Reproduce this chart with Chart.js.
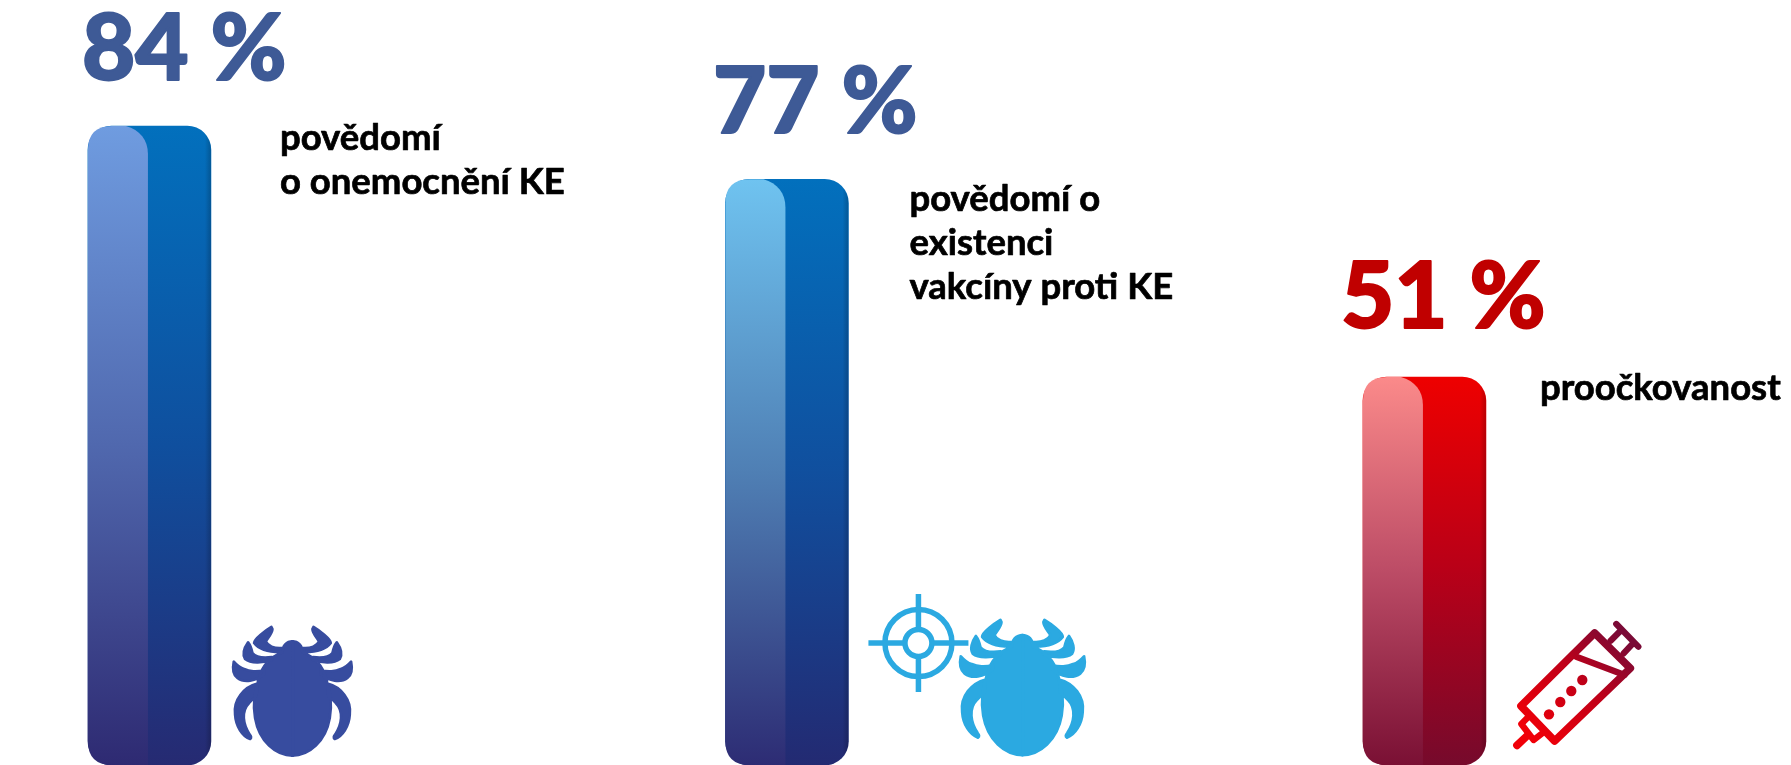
<!DOCTYPE html>
<html lang="cs"><head><meta charset="utf-8">
<script src="https://cdn.jsdelivr.net/npm/chart.js@4"></script>
<style>html,body{margin:0;padding:0;background:#fff;overflow:hidden}canvas{display:block}</style>
</head><body><canvas id="c" width="1791" height="765"></canvas>
<script>
// ---- data ----
const positions = [0, 1, 2];
const values = [84, 77, 51];
const valueLabels = ['84 %', '77 %', '51 %'];
const captions = [
  ['povědomí', 'o onemocnění KE'],
  ['povědomí o', 'existenci', 'vakcíny proti KE'],
  ['proočkovanost']
];
// ---- styles ----
const valueColors = ['#3E5A96', '#3E5A96', '#C00000'];
const mainStops = [
  ['#0270BD', '#0F4F9E', '#262A72'],
  ['#0270BD', '#104F9E', '#232A72'],
  ['#EE0000', '#B80018', '#760A2C']
];
const lightStops = [
  ['#6F9CE0', '#5068AE', '#2E2A72'],
  ['#6FC3F0', '#4F7FB4', '#2D2C74'],
  ['#FB8A8A', '#BC4C66', '#7A1034']
];
const BIG = '900 92px Lato, sans-serif';
const SMALL = 'bold 36.5px Lato, sans-serif';

const TICK_RIGHT = 'M-1 125C18 125 30 138 30 158C60 170 90 195 100 235C115 275 118 320 112 355C100 425 50 468 -1 468Z' +
  'M63 82C80 92 115 118 115 130C100 150 65 158 30 157L30 145C55 148 75 138 80 125C70 110 60 100 60 88Z' +
  'M133 128C145 145 150 165 142 178C125 192 90 190 62 182L62 172C85 175 110 172 120 160C122 150 125 138 133 128Z' +
  'M176 186C180 205 178 225 165 235C145 250 110 245 85 224L85 210C105 218 130 215 145 208C158 205 168 195 176 186Z' +
  'M105 252C145 262 178 300 172 345C170 380 150 410 127 418C122 415 124 410 128 405C148 375 155 335 130 310C122 300 115 295 108 290Z';
function drawTick(ctx, cx, top, scale, color) {
  const p = new Path2D(TICK_RIGHT);
  ctx.save();
  ctx.fillStyle = color;
  ctx.strokeStyle = color;
  ctx.lineWidth = 8;
  ctx.lineJoin = 'round';
  [1, -1].forEach(dir => {
    ctx.save();
    ctx.translate(cx, top);
    ctx.scale(dir * scale / 3, scale / 3);
    ctx.translate(0, -82);
    ctx.fill(p);
    ctx.stroke(p);
    ctx.restore();
  });
  ctx.restore();
}
function drawTarget(ctx, cx, cy) {
  ctx.save();
  ctx.strokeStyle = '#2BA9E1';
  ctx.lineWidth = 5.5;
  ctx.beginPath(); ctx.arc(cx, cy, 33.5, 0, Math.PI * 2); ctx.stroke();
  ctx.beginPath(); ctx.arc(cx, cy, 13.5, 0, Math.PI * 2); ctx.stroke();
  ctx.beginPath();
  [[1,0],[-1,0],[0,1],[0,-1]].forEach(d => {
    ctx.moveTo(cx + d[0]*15, cy + d[1]*15);
    ctx.lineTo(cx + d[0]*50, cy + d[1]*49);
  });
  ctx.stroke();
  ctx.restore();
}
function drawSyringe(ctx, ox, oy) {
  ctx.save();
  ctx.translate(ox, oy);
  ctx.scale(1/3, 1/3);
  const g = ctx.createLinearGradient(820, 110, 540, 400);
  g.addColorStop(0, '#7A0A36');
  g.addColorStop(0.45, '#C00018');
  g.addColorStop(1, '#F00008');
  ctx.strokeStyle = g; ctx.fillStyle = g;
  ctx.lineWidth = 23; ctx.lineCap = 'round'; ctx.lineJoin = 'round';
  ctx.stroke(new Path2D('M735 99L842 205L615 423L514 318Z'));
  ctx.lineWidth = 19;
  ctx.stroke(new Path2D('M680 170L825 225'));
  ctx.stroke(new Path2D('M800 72L866 140M783 122L815 90M822 160L852 128'));
  ctx.stroke(new Path2D('M535 352L515 372L552 420L578 400'));
  ctx.lineWidth = 23;
  ctx.stroke(new Path2D('M535 405L502 436'));
  [[598,343],[632,306],[665,273],[698,240]].forEach(d => {
    ctx.beginPath(); ctx.arc(d[0], d[1], 15.5, 0, Math.PI*2); ctx.fill();
  });
  ctx.restore();
}

const annotate = {
  id: 'annotate',
  afterDatasetsDraw(chart) {
    const ctx = chart.ctx;
    const bars = chart.getDatasetMeta(0).data;
    bars.forEach((b, i) => {
      const L = b.x - b.width / 2, T = b.y, B = b.base, W = 60, r = 24;
      const g = ctx.createLinearGradient(0, T, 0, B);
      lightStops[i].forEach((c, k) => g.addColorStop(k / 2, c));
      ctx.save();
      ctx.fillStyle = g;
      ctx.beginPath();
      ctx.moveTo(L, T + r);
      ctx.quadraticCurveTo(L, T, L + r, T);
      ctx.lineTo(L + W - 22, T);
      ctx.bezierCurveTo(L + W - 8, T + 4, L + W, T + 14, L + W, T + 28);
      ctx.lineTo(L + W, B);
      ctx.lineTo(L + r, B);
      ctx.quadraticCurveTo(L, B, L, B - r);
      ctx.closePath();
      ctx.fill();
      ctx.restore();

      // soft shaded right edge of the bar
      ctx.save();
      ctx.beginPath();
      ctx.roundRect(L, T, b.width, B - T, r);
      ctx.clip();
      const edge = ctx.createLinearGradient(L + b.width - 6, 0, L + b.width, 0);
      edge.addColorStop(0, 'rgba(0,0,0,0)');
      edge.addColorStop(1, 'rgba(0,0,0,0.2)');
      ctx.fillStyle = edge;
      ctx.fillRect(L + b.width - 6, T, 6, B - T);
      ctx.restore();

      ctx.save();
      ctx.textBaseline = 'alphabetic';
      ctx.textAlign = 'left';
      ctx.font = BIG;
      ctx.fillStyle = valueColors[i];
      ctx.strokeStyle = valueColors[i];
      ctx.lineWidth = 2;
      ctx.lineJoin = 'round';
      const bigDx = [-6, -12.5, -22][i], bigDy = [-46, -46, -49][i];
      ctx.fillText(valueLabels[i], L + bigDx, T + bigDy);
      ctx.strokeText(valueLabels[i], L + bigDx, T + bigDy);
      ctx.font = SMALL;
      ctx.fillStyle = '#000';
      ctx.strokeStyle = '#000';
      ctx.lineWidth = 0.7;
      const capDy = [24, 32, 23][i];
      captions[i].forEach((line, k) => {
        const x = L + [192, 184, 177][i], y = T + capDy + k * 43.7;
        ctx.fillText(line, x, y);
        ctx.strokeText(line, x, y);
      });
      ctx.restore();

      if (i === 0) drawTick(ctx, L + 204.5, 627, 1, '#374C9F');
      if (i === 1) { drawTarget(ctx, L + 193, 643); drawTick(ctx, L + 297, 620, 1.05, '#2BA9E1'); }
      if (i === 2) drawSyringe(ctx, L - 13.3, 600);
    });
  }
};

new Chart(document.getElementById('c'), {
  type: 'bar',
  data: {
    datasets: [{
      data: positions.map((x, i) => ({ x, y: values[i] })),
      barThickness: 123,
      borderRadius: 24,
      borderSkipped: false,
      backgroundColor(ctx) {
        const { chart, dataIndex } = ctx;
        const a = chart.chartArea;
        if (!a) return '#000';
        const top = chart.scales.y.getPixelForValue(values[dataIndex]);
        const g = chart.ctx.createLinearGradient(0, top, 0, a.bottom);
        mainStops[dataIndex].forEach((c, k) => g.addColorStop(k / 2, c));
        return g;
      }
    }]
  },
  options: {
    responsive: false,
    animation: false,
    layout: { padding: 0 },
    plugins: { legend: { display: false }, tooltip: { enabled: false } },
    scales: {
      x: { type: 'linear', offset: false, min: -0.2344, max: 2.575, display: false },
      y: { min: 0, max: 100.56, display: false }
    }
  },
  plugins: [annotate]
});
</script></body></html>
